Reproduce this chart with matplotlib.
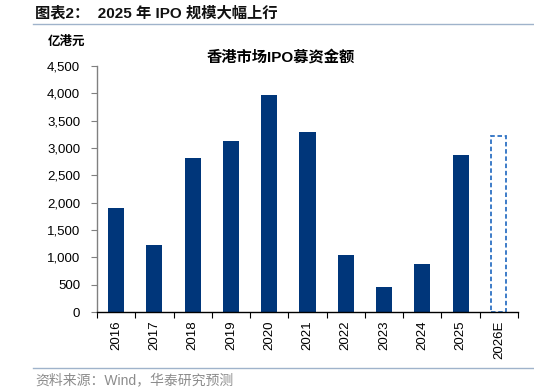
import matplotlib
matplotlib.use("Agg")
import matplotlib.pyplot as plt
from matplotlib.lines import Line2D

plt.rcParams['font.family'] = ['Liberation Sans', 'Noto Sans CJK SC', 'DejaVu Sans']

years = ['2016', '2017', '2018', '2019', '2020', '2021', '2022', '2023', '2024', '2025', '2026E']
values = [1900, 1225, 2815, 3125, 3975, 3290, 1045, 460, 880, 2870, 3210]
is_estimate = [False] * 10 + [True]
yticks = [0, 500, 1000, 1500, 2000, 2500, 3000, 3500, 4000, 4500]

fig = plt.figure(figsize=(5.34, 3.92), dpi=100)
ax = fig.add_axes([0.1816, 0.204, 0.7884, 0.628])

x = list(range(len(years)))
for xi, v, est in zip(x, values, is_estimate):
    if est:
        ax.bar(xi, v, width=0.4, facecolor='white', edgecolor='#2E72C4',
               linestyle=(0, (2.5, 1.5)), linewidth=1.3)
    else:
        ax.bar(xi, v, width=0.42, color='#00367A')

ax.set_xlim(-0.5, len(years) - 0.5)
ax.set_ylim(0, 4500)
ax.set_yticks(yticks)
ax.set_yticklabels([f'{t:,}' for t in yticks], fontsize=9.5)
ax.set_xticks(x)
ax.set_xticklabels(years, rotation=90, fontsize=9.5)
ax.tick_params(axis='x', length=0, pad=6)
ax.set_xticks([i - 0.5 for i in range(len(years) + 1)], minor=True)
ax.tick_params(axis='x', which='minor', length=4, width=0.8, color='black', direction='out')
ax.tick_params(axis='y', length=4, width=0.8, color='#808080', direction='out', pad=8)

for s in ['top', 'right']:
    ax.spines[s].set_visible(False)
ax.spines['left'].set_color('#808080')
ax.spines['left'].set_linewidth(1.0)
ax.spines['bottom'].set_color('black')
ax.spines['bottom'].set_linewidth(1.0)

fig.text(0.066, 0.967, '图表2：  2025 年 IPO 规模大幅上行', fontsize=11, fontweight='bold',
         va='center', ha='left', color='#111111')
fig.add_artist(Line2D([0.062, 1.0], [0.938, 0.938], color='#9FB3CB', linewidth=1.0,
                      transform=fig.transFigure))
fig.text(0.09, 0.893, '亿港元', fontsize=9, fontweight='bold', va='center', ha='left')
fig.text(0.525, 0.855, '香港市场IPO募资金额', fontsize=11, fontweight='bold', va='center', ha='center')
fig.add_artist(Line2D([0.062, 1.0], [0.061, 0.061], color='#9FB3CB', linewidth=1.0,
                      transform=fig.transFigure))
fig.text(0.066, 0.03, '资料来源：Wind，华泰研究预测', fontsize=10, color='#8C8C8C',
         va='center', ha='left')

fig.savefig('out.png', dpi=100)
